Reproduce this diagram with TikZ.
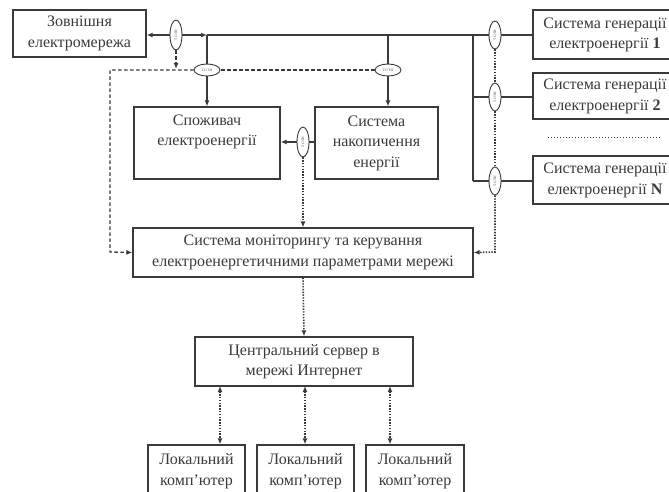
\documentclass[tikz,border=0pt]{standalone}
\usepackage{fontspec}
\setmainfont{Liberation Serif}
\usetikzlibrary{arrows.meta,shapes.geometric}
\definecolor{ink}{HTML}{3A3A3A}
\tikzset{
  box/.style={draw=ink,line width=1.3pt,rectangle,inner sep=0pt,align=center,text=ink,font=\fontsize{16}{20.5}\selectfont},
  txt/.style={inner sep=0pt,align=center,text=ink,font=\fontsize{16}{20.5}\selectfont},
  sens/.style={draw=ink,line width=0.9pt,ellipse,inner sep=0pt,fill=white,text=ink,font=\fontsize{3.5}{4}\selectfont},
  vsens/.style={sens,minimum width=12pt,minimum height=30pt},
  hsens/.style={sens,minimum width=26pt,minimum height=12pt},
  ln/.style={draw=ink,line width=1.2pt},
  tip/.style={-{Latex[length=6pt,width=5pt]}},
  dsh/.style={ln,line width=1.3pt,dash pattern=on 3.5pt off 2.5pt},
  dts/.style={ln,line width=1.6pt,dash pattern=on 1.4pt off 1.4pt}
}
\begin{document}
\begin{tikzpicture}[x=1pt,y=-1pt]
\useasboundingbox (0,0) rectangle (669,491);
% boxes
\node[box,minimum width=133pt,minimum height=47pt] (ext) at (79.5,33.5) {Зовнішня\\електромережа};
\node[box,minimum width=147pt,minimum height=49pt] (gen1) at (606.5,34.5) {};
\node[box,minimum width=147pt,minimum height=46pt] (gen2) at (606.5,96) {};
\node[box,minimum width=147pt,minimum height=48pt] (genN) at (606.5,180) {};
\node[txt] (gen1T) at (605,35) {Система генерації\\електроенергії \textbf{1}};
\node[txt] (gen2T) at (605,96.5) {Система генерації\\електроенергії \textbf{2}};
\node[txt] (genNT) at (605,180.5) {Система генерації\\електроенергії \textbf{N}};
\node[box,minimum width=146pt,minimum height=72pt] (cons) at (207,143) {};
\node[txt,anchor=north] (consT) at ([yshift=-8pt]cons.north) {Споживач\\електроенергії};
\node[box,minimum width=123pt,minimum height=72pt] (stor) at (376.5,143) {Система\\накопичення\\енергії};
\node[box,minimum width=340pt,minimum height=49pt] (mon) at (303,252.5) {Система моніторингу та керування\\електроенергетичними параметрами мережі};
\node[box,minimum width=218pt,minimum height=49pt] (serv) at (304,361.5) {Центральний сервер в\\мережі Интернет};
\node[box,minimum width=97pt,minimum height=58pt] (loc1) at (196.5,474) {};
\node[box,minimum width=97pt,minimum height=58pt] (loc2) at (305.5,474) {};
\node[box,minimum width=98pt,minimum height=58pt] (loc3) at (415,474) {};
\node[txt] (loc1T) at (196.5,471) {Локальний\\комп’ютер};
\node[txt] (loc2T) at (305.5,471) {Локальний\\комп’ютер};
\node[txt] (loc3T) at (415,471) {Локальний\\комп’ютер};
% dotted separator
\coordinate (dl) at (548,137);
\coordinate (dr) at (660,137);
\draw[ink,line width=0.9pt,dash pattern=on 1pt off 2pt] (dl) -- (dr);
% junction coordinates
\coordinate (j1) at (207,35);
\coordinate (j2) at (388,35);
\coordinate (jR) at (473,35);
\coordinate (jR2) at (473,97);
\coordinate (jR3) at (473,181);
\coordinate (dL) at (110,70);
\coordinate (dLb) at (110,252);
\coordinate (dR) at (495,252);
\coordinate (a0) at (176,69);
\coordinate (s1) at (220,386);
\coordinate (s2) at (305,386);
\coordinate (s3) at (390,386);
% sensors
\node[vsens] (e0) at (176,35) {\rotatebox{90}{ТС/ТН}};
\node[hsens] (e1) at (207,70) {ТС/ТН};
\node[hsens] (e2) at (388,70) {ТС/ТН};
\node[vsens] (e3) at (303,142) {\rotatebox{90}{ТС/ТН}};
\node[vsens,minimum height=28pt] (g1) at (495,35) {\rotatebox{90}{ТС/ТН}};
\node[vsens,minimum height=28pt] (g2) at (495,97) {\rotatebox{90}{ТС/ТН}};
\node[vsens,minimum height=28pt] (g3) at (495,181) {\rotatebox{90}{ТС/ТН}};
% power lines
\draw[ln,tip] (e0) -- (ext.east|-e0);
\draw[ln,tip] (e0) -- (j1);
\draw[ln] (j1) -- (g1) -- (gen1.west|-g1);
\draw[ln] (j1) -- (e1);
\draw[ln,tip] (e1) -- (cons.north);
\draw[ln] (j2) -- (e2);
\draw[ln,tip] (e2) -- (e2|-stor.north);
\draw[ln] (jR) -- (jR3);
\draw[ln] (jR2) -- (g2) -- (gen2.west|-g2);
\draw[ln] (jR3) -- (g3) -- (genN.west|-g3);
\draw[ln] (stor.west|-e3) -- (e3);
\draw[ln,tip] (e3) -- (cons.east|-e3);
% control lines
\draw[dsh] (e2) -- (e1);
\draw[dsh,tip] (e1) -- (dL) -- (dLb) -- (mon.west);
\draw[dsh,tip] (e0) -- (a0);
\draw[dts,tip] (e3) -- (e3|-mon.north);
\draw[dts] (g1) -- (g2);
\draw[dts] (g2) -- (g3);
\draw[dts,tip] (g3) -- (dR) -- (mon.east);
\draw[dts,tip] (mon.south) -- (serv.north);
\draw[dts,{Latex[length=6pt,width=5pt]}-{Latex[length=6pt,width=5pt]}] (s1) -- (s1|-loc1.north);
\draw[dts,{Latex[length=6pt,width=5pt]}-{Latex[length=6pt,width=5pt]}] (s2) -- (s2|-loc2.north);
\draw[dts,{Latex[length=6pt,width=5pt]}-{Latex[length=6pt,width=5pt]}] (s3) -- (s3|-loc3.north);
\end{tikzpicture}
\end{document}
